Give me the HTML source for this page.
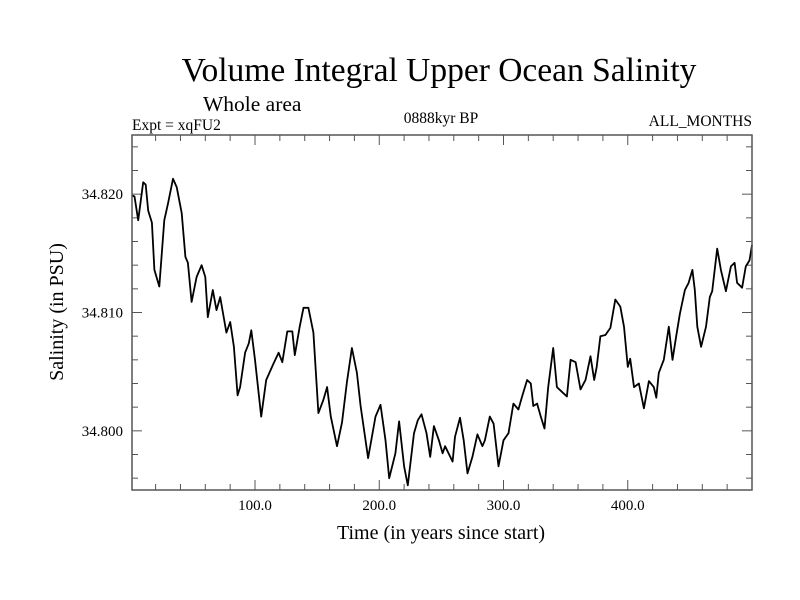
<!DOCTYPE html>
<html><head><meta charset="utf-8"><style>
body{margin:0;background:#fff}
svg{display:block}
text{font-family:"Liberation Serif",serif;fill:#000}
</style></head><body>
<svg id="chart" width="800" height="600" viewBox="0 0 800 600">
<rect x="0" y="0" width="800" height="600" fill="#fff"/>
<text x="439" y="81" font-size="33.5" text-anchor="middle">Volume Integral Upper Ocean Salinity</text>
<text x="203" y="111" font-size="21.5">Whole area</text>
<text x="132" y="130" font-size="15.5">Expt = xqFU2</text>
<text x="441" y="123" font-size="15.5" text-anchor="middle">0888kyr BP</text>
<text x="752" y="126" font-size="15.5" text-anchor="end">ALL_MONTHS</text>
<text x="441" y="539" font-size="20" text-anchor="middle">Time (in years since start)</text>
<text transform="translate(63,312) rotate(-90)" font-size="20" text-anchor="middle">Salinity (in PSU)</text>
<g id="axes"></g>
<rect x="132" y="135" width="620" height="355" fill="none" stroke="#555" stroke-width="1.5"/>
</svg>
<script>
const years=[1,3,6,10,12,14,17,19,23,27,30,34,37,41,44,46,49,53,57,60,62,66,69,72,77,80,83,86,88,92,95,97,100,105,109,115,119,122,126,130,132,136,139,143,147,151,155,158,161,166,170,174,178,182,185,191,197,201,205,208,213,216,220,223,228,231,234,238,241,244,248,251,253,259,261,265,268,271,275,279,283,285,289,292,296,300,304,308,312,315,319,322,324,327,330,333,336,340,343,347,351,354,358,362,366,370,373,375,378,382,386,390,394,397,400,402,405,409,413,417,421,423,425,429,433,436,439,442,446,449,452,454,456,459,463,466,468,472,475,479,483,486,488,492,495,498,500];
const salinity=[34.8199,34.8198,34.8178,34.8210,34.8208,34.8186,34.8176,34.8136,34.8122,34.8178,34.8192,34.8213,34.8206,34.8184,34.8147,34.8142,34.8109,34.8130,34.8140,34.8130,34.8096,34.8119,34.8102,34.8113,34.8083,34.8092,34.8071,34.8030,34.8037,34.8066,34.8074,34.8085,34.8060,34.8012,34.8043,34.8057,34.8066,34.8058,34.8084,34.8084,34.8064,34.8088,34.8104,34.8104,34.8083,34.8015,34.8026,34.8037,34.8012,34.7987,34.8007,34.8041,34.8070,34.8049,34.8021,34.7977,34.8012,34.8022,34.7992,34.7960,34.7981,34.8008,34.7970,34.7954,34.7998,34.8009,34.8014,34.7998,34.7978,34.8004,34.7992,34.7981,34.7987,34.7974,34.7995,34.8011,34.7992,34.7964,34.7978,34.7997,34.7987,34.7992,34.8012,34.8006,34.7970,34.7992,34.7998,34.8023,34.8018,34.8029,34.8043,34.8040,34.8021,34.8023,34.8012,34.8002,34.8037,34.8070,34.8037,34.8033,34.8029,34.8060,34.8058,34.8035,34.8043,34.8063,34.8043,34.8054,34.8080,34.8081,34.8087,34.8111,34.8105,34.8088,34.8054,34.8061,34.8037,34.8040,34.8019,34.8042,34.8037,34.8028,34.8049,34.8060,34.8088,34.8060,34.8080,34.8099,34.8119,34.8125,34.8136,34.8119,34.8088,34.8071,34.8088,34.8113,34.8118,34.8154,34.8136,34.8118,34.8139,34.8142,34.8125,34.8121,34.8139,34.8144,34.8157];
const xTickLabels=["100.0","200.0","300.0","400.0"];
const xTickValues=[100,200,300,400];
const yTickLabels=["34.800","34.810","34.820"];
const yTickValues=[34.800,34.810,34.820];
const X0=132,X1=752,Y0=135,Y1=490,xMin=1,xMax=500,yMin=34.795,yMax=34.825;
const sx=v=>X0+(v-xMin)/(xMax-xMin)*(X1-X0);
const sy=v=>Y1-(v-yMin)/(yMax-yMin)*(Y1-Y0);
const NS="http://www.w3.org/2000/svg";
const g=document.getElementById('axes');
function mk(tag,attrs){const e=document.createElementNS(NS,tag);for(const k in attrs)e.setAttribute(k,attrs[k]);g.appendChild(e);return e;}
for(let v=20;v<500;v+=20){
 const major=v%100===0,len=major?10:6;
 const t1=mk('line',{x1:sx(v),x2:sx(v),y1:Y1,y2:Y1-len,stroke:'#555','stroke-width':1});
 
 
 const t2=mk('line',{x1:sx(v),x2:sx(v),y1:Y0,y2:Y0+len,stroke:'#555','stroke-width':1});
 
 
}
for(let i=0;i<16;i++){
 const v=34.796+i*0.002;if(v>34.8245)break;
 const major=Math.abs((v-34.8)/0.01-Math.round((v-34.8)/0.01))<1e-6,len=major?10:6;
 const t1=mk('line',{x1:X0,x2:X0+len,y1:sy(v),y2:sy(v),stroke:'#555','stroke-width':1});
 
 
 const t2=mk('line',{x1:X1,x2:X1-len,y1:sy(v),y2:sy(v),stroke:'#555','stroke-width':1});
 
 
}
xTickValues.forEach((v,i)=>{
 const t=mk('text',{x:sx(v),y:510,'font-size':15,'text-anchor':'middle'});
 t.textContent=xTickLabels[i];
 
 
});
yTickValues.forEach((v,i)=>{
 const t=mk('text',{x:123,y:sy(v)+5,'font-size':15,'text-anchor':'end'});
 t.textContent=yTickLabels[i];
 
 
});
const d=years.map((y,i)=>(i?'L':'M')+sx(y).toFixed(1)+','+sy(salinity[i]).toFixed(1)).join('');
const p=mk('path',{d:d,fill:'none',stroke:'#000','stroke-width':1.8,'stroke-linejoin':'round'});


</script>
</body></html>
